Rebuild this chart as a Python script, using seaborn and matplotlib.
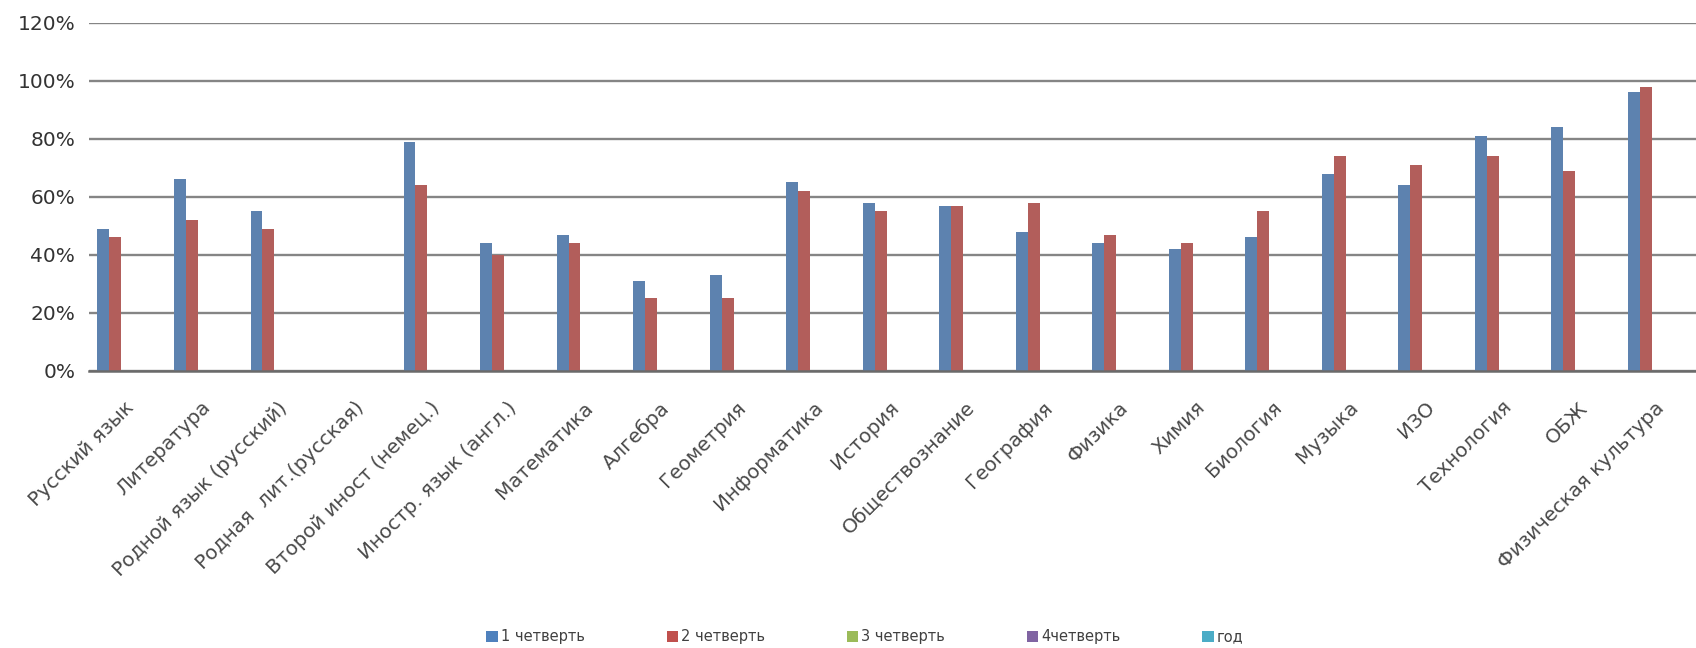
import numpy as np
import pandas as pd
import matplotlib
matplotlib.use("Agg")
import matplotlib.pyplot as plt
import matplotlib.transforms as mtransforms
import seaborn as sns
from matplotlib.patches import Patch

# данные с графика
предметы = ["Русский язык", "Литература", "Родной язык (русский)", "Родная  лит.(русская)",
            "Второй иност (немец.)", "Иностр. язык (англ.)", "Математика", "Алгебра",
            "Геометрия", "Информатика", "История", "Обществознание", "География",
            "Физика", "Химия", "Биология", "Музыка", "ИЗО", "Технология", "ОБЖ",
            "Физическая культура"]
четв1 = [0.49, 0.66, 0.55, 0.0, 0.79, 0.44, 0.47, 0.31, 0.33, 0.65, 0.58,
         0.57, 0.48, 0.44, 0.42, 0.46, 0.68, 0.64, 0.81, 0.84, 0.96]
четв2 = [0.46, 0.52, 0.49, 0.0, 0.64, 0.40, 0.44, 0.25, 0.25, 0.62, 0.55,
         0.57, 0.58, 0.47, 0.44, 0.55, 0.74, 0.71, 0.74, 0.69, 0.98]
четв3 = [np.nan] * len(предметы)
четв4 = [np.nan] * len(предметы)
год = [np.nan] * len(предметы)

серии = ["1 четверть", "2 четверть", "3 четверть", "4четверть", "год"]
цвета = ["#4F81BD", "#C0504D", "#9BBB59", "#8064A2", "#4BACC6"]

df = pd.DataFrame({"Предмет": предметы, серии[0]: четв1, серии[1]: четв2,
                   серии[2]: четв3, серии[3]: четв4, серии[4]: год})
long = df.melt(id_vars="Предмет", var_name="Период", value_name="Доля")
long["Доля"] = long["Доля"].fillna(0)

sns.set_style("white")
plt.rcParams["font.family"] = ["DejaVu Sans"]

fig = plt.figure(figsize=(16.96, 6.48), dpi=100)
ax = fig.add_axes([0.0525, 0.4275, 0.9475, 0.5375])

sns.barplot(data=long, x="Предмет", y="Доля", hue="Период", hue_order=серии,
            order=предметы, palette=цвета, width=0.78, linewidth=0,
            legend=False, ax=ax)

ax.set_ylim(0, 1.2)
ax.set_xlim(-0.5, len(предметы) - 0.5)
ax.set_yticks(np.arange(0, 1.21, 0.2))
ax.set_yticklabels([f"{int(round(v * 100))}%" for v in np.arange(0, 1.21, 0.2)],
                   fontsize=14.5, color="#333333")
ax.yaxis.grid(True, color="#858585", linewidth=1.7)
ax.set_axisbelow(True)
for s in ["top", "right", "left"]:
    ax.spines[s].set_visible(False)
ax.spines["bottom"].set_color("#6a6a6a")
ax.spines["bottom"].set_linewidth(1.8)
ax.tick_params(axis="y", length=0, pad=10)
ax.tick_params(axis="x", length=0, pad=8)
ax.set_xlabel("")
ax.set_ylabel("")
ax.set_xticks(range(len(предметы)))
ax.set_xticklabels(предметы, rotation=45, ha="right", va="top",
                   rotation_mode="anchor", fontsize=14.3, color="#4a4a4a")
сдвиг = mtransforms.ScaledTranslation(-0.03, -0.16, fig.dpi_scale_trans)
for t in ax.get_xticklabels():
    t.set_transform(t.get_transform() + сдвиг)

handles = [Patch(facecolor=c, edgecolor="none") for c in цвета]
fig.legend(handles, серии, loc="center", bbox_to_anchor=(0.51, 0.017), ncol=5,
           frameon=False, fontsize=10.5, handlelength=0.8, handleheight=0.8,
           handletextpad=0.2, columnspacing=5.6, labelcolor="#404040")

fig.savefig("out.png", dpi=100)
